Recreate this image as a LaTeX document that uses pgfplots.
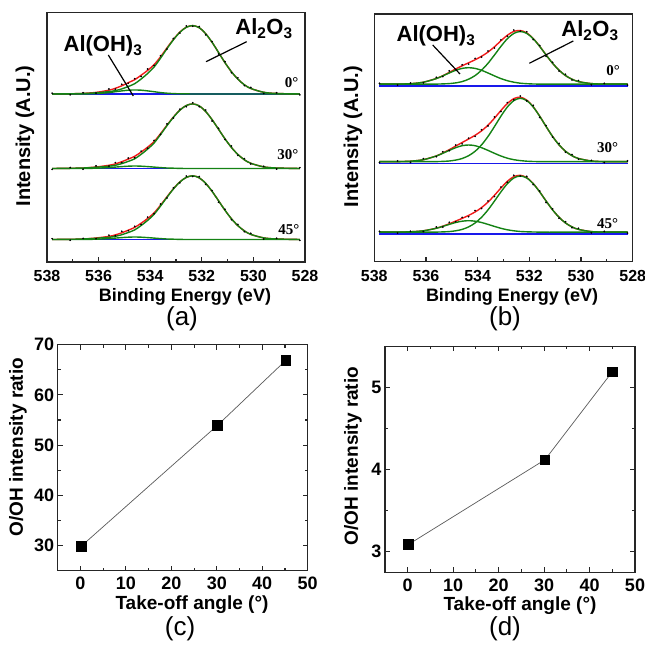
\documentclass[border=0pt]{standalone}
\usepackage{fontspec}
\setmainfont{Liberation Sans}
\newfontfamily\tms{Liberation Serif}
\usepackage{pgfplots}
\usepackage{pgfplotstable}
\pgfplotsset{compat=1.18}

\definecolor{fitgreen}{RGB}{20,130,20}
\definecolor{fitred}{RGB}{240,25,25}
\definecolor{basblue}{RGB}{25,25,235}

% panel (a): x, then envelope / Al2O3 / Al(OH)3 / data for 0, 30, 45 deg
\pgfplotstableread{
x e0 c0 h0 d0 e30 c30 h30 d30 e45 c45 h45 d45
537.8 168.0 168.0 168.0 168.8 93.5 93.5 93.5 92.6 22.5 22.5 22.5 23.3
537.1 168.2 168.2 168.0 167.2 93.7 93.7 93.5 94.4 22.7 22.7 22.5 21.7
536.6 168.6 168.5 168.1 169.2 94.0 94.0 93.5 92.8 23.0 23.0 22.5 23.6
536.1 169.6 169.2 168.4 168.9 95.0 94.7 93.8 96.1 24.0 23.7 22.8 23.3
535.6 171.8 170.4 169.4 173.0 96.7 95.8 94.4 95.9 25.6 24.7 23.4 26.8
535.35 173.7 171.4 170.3 172.8 98.1 96.7 94.9 99.4 27.1 25.7 23.9 26.2
535.1 176.2 173.1 171.1 177.7 100.3 98.4 95.4 99.4 29.2 27.3 24.4 30.7
534.85 179.3 175.5 171.8 178.7 102.9 100.6 95.8 103.9 31.8 29.5 24.8 31.2
534.6 182.3 178.3 172.0 183.3 105.7 103.2 96.0 104.3 34.6 32.1 25.0 35.6
534.35 186.8 183.0 171.8 185.5 110.0 107.7 95.8 110.8 38.8 36.5 24.8 37.5
534.1 191.6 188.5 171.1 193.0 114.8 112.9 95.4 113.7 43.5 41.6 24.4 44.9
533.85 197.3 195.0 170.3 196.5 120.4 119.0 94.9 121.6 49.1 47.7 23.9 48.3
533.6 205.2 203.8 169.4 206.3 128.3 127.4 94.4 127.6 56.8 55.9 23.4 57.9
533.35 214.1 213.3 168.8 212.9 136.8 136.3 94.0 138.1 65.2 64.7 23.0 64.0
533.1 222.6 222.2 168.4 223.5 145.0 144.7 93.8 144.0 73.3 73.0 22.8 74.2
532.85 229.9 229.7 168.2 228.9 151.9 151.8 93.6 152.8 80.1 80.0 22.6 79.1
532.6 234.8 234.7 168.1 236.1 156.5 156.5 93.5 155.3 84.6 84.6 22.5 85.9
532.35 236.4 236.4 168.0 235.7 158.1 158.1 93.5 159.2 86.2 86.2 22.5 85.5
532.1 234.3 234.3 168.0 235.5 156.1 156.1 93.5 155.3 84.2 84.2 22.5 85.4
531.85 228.3 228.3 168.0 227.2 150.5 150.5 93.5 151.9 78.7 78.7 22.5 77.6
531.6 219.6 219.6 168.0 220.4 142.3 142.3 93.5 141.0 70.6 70.6 22.5 71.4
531.35 209.5 209.5 168.0 208.1 132.7 132.7 93.5 133.7 61.2 61.2 22.5 59.8
531.1 199.3 199.3 168.0 200.3 123.1 123.1 93.5 122.5 51.7 51.7 22.5 52.7
530.85 190.2 190.2 168.0 189.3 114.5 114.5 93.5 116.0 43.2 43.2 22.5 42.3
530.6 182.8 182.8 168.0 184.1 107.5 107.5 93.5 106.6 36.3 36.3 22.5 37.6
530.35 177.2 177.2 168.0 176.4 102.2 102.2 93.5 103.4 31.1 31.1 22.5 30.3
530.1 173.5 173.5 168.0 174.6 98.7 98.7 93.5 98.0 27.6 27.6 22.5 28.7
529.6 169.7 169.7 168.0 168.5 95.1 95.1 93.5 95.7 24.1 24.1 22.5 22.9
529.1 168.5 168.5 168.0 169.2 94.0 94.0 93.5 93.0 23.0 23.0 22.5 23.7
528.2 168.0 168.0 168.0 167.1 93.5 93.5 93.5 94.3 22.5 22.5 22.5 21.6
}\tabA

% panel (b)
\pgfplotstableread{
x e0 c0 h0 d0 e30 c30 h30 d30 e45 c45 h45 d45
537.8 177.5 177.5 177.5 178.3 100.0 100.0 100.0 99.1 29.5 29.5 29.5 30.3
537.1 177.6 177.5 177.6 176.6 100.1 100.0 100.1 100.8 29.6 29.5 29.6 28.6
536.6 178.0 177.5 178.0 178.6 100.5 100.0 100.5 99.3 29.9 29.5 29.9 30.5
536.1 179.5 177.5 179.5 178.8 102.0 100.0 102.0 103.1 30.9 29.5 30.9 30.2
535.6 183.2 177.6 183.1 184.4 105.8 100.1 105.7 105.0 33.5 29.6 33.4 34.7
535.35 186.0 177.8 185.8 185.1 108.7 100.3 108.4 110.0 35.5 29.8 35.3 34.6
535.1 189.3 178.1 188.7 190.8 112.0 100.7 111.3 111.1 37.9 30.1 37.3 39.4
534.85 192.7 178.8 191.4 192.1 115.6 101.6 114.0 116.6 40.6 30.9 39.2 40.0
534.6 195.9 180.1 193.3 196.9 119.2 103.2 116.0 117.8 43.3 32.3 40.5 44.3
534.35 198.9 182.5 194.0 197.6 122.7 106.0 116.7 123.5 46.3 34.8 41.0 45.0
534.1 201.9 186.1 193.3 203.3 126.4 110.4 116.0 125.3 49.7 38.7 40.5 51.1
533.85 205.4 191.5 191.4 204.6 130.8 116.8 114.0 132.0 54.1 44.4 39.2 53.3
533.6 209.6 198.4 188.7 210.7 136.5 125.2 111.3 135.8 59.6 51.8 37.3 60.7
533.35 214.9 206.7 185.8 213.7 143.5 135.1 108.4 144.8 66.4 60.6 35.3 65.2
533.1 220.9 215.3 183.1 221.8 151.2 145.5 105.7 150.2 73.7 69.8 33.4 74.6
532.85 226.5 223.0 181.0 225.5 158.2 154.7 103.5 159.1 80.4 78.0 31.9 79.4
532.6 230.3 228.3 179.5 231.6 163.1 161.1 102.0 161.9 85.1 83.7 30.9 86.4
532.35 231.2 230.2 178.5 230.5 164.5 163.4 101.1 165.6 86.4 85.7 30.2 85.7
532.1 228.8 228.3 178.0 230.0 161.6 161.1 100.5 160.8 84.1 83.7 29.9 85.3
531.85 223.2 223.0 177.7 222.1 154.9 154.7 100.2 156.3 78.2 78.0 29.7 77.1
531.6 215.4 215.3 177.6 216.2 145.6 145.5 100.1 144.3 69.9 69.8 29.6 70.7
531.35 206.7 206.7 177.5 205.3 135.1 135.1 100.0 136.1 60.6 60.6 29.5 59.2
531.1 198.4 198.4 177.5 199.4 125.2 125.2 100.0 124.6 51.8 51.8 29.5 52.8
530.85 191.5 191.5 177.5 190.6 116.8 116.8 100.0 118.3 44.4 44.4 29.5 43.5
530.6 186.1 186.1 177.5 187.4 110.4 110.4 100.0 109.5 38.7 38.7 29.5 40.0
530.35 182.5 182.5 177.5 181.7 106.0 106.0 100.0 107.2 34.8 34.8 29.5 34.0
530.1 180.1 180.1 177.5 181.2 103.2 103.2 100.0 102.5 32.3 32.3 29.5 33.4
529.6 178.1 178.1 177.5 176.9 100.7 100.7 100.0 101.3 30.1 30.1 29.5 28.9
529.1 177.6 177.6 177.5 178.3 100.1 100.1 100.0 99.1 29.6 29.6 29.5 30.3
528.2 177.5 177.5 177.5 176.6 100.0 100.0 100.0 100.8 29.5 29.5 29.5 28.6
}\tabB

\newcommand\lbl{\fontsize{19}{19}\selectfont\bfseries}
\newcommand\spc{\fontsize{22}{22}\selectfont\bfseries}
\newcommand\ang{\fontsize{15}{15}\selectfont\tms\bfseries}
\newcommand\pan{\fontsize{26}{26}\selectfont}

\pgfplotsset{
  frame/.style={scale only axis, anchor=south west, tick align=inside,
    axis line style={line width=1.3pt, black!85},
    tick style={black!85, line width=1.1pt},
    major tick length=5pt, minor tick length=3pt,
    /pgf/number format/assume math mode=true,
    /pgf/number format/1000 sep={},
    ticklabel style={font=\fontsize{18}{18}\selectfont\bfseries}},
  spec/.style={frame, xmin=528, xmax=538, x dir=reverse, ymin=0,
    xtick={528,530,...,538}, minor x tick num=1, ytick=\empty,
    xtick pos=bottom,
    xticklabel style={font=\fontsize{16}{16}\selectfont\bfseries, yshift=-5pt}},
  gr/.style={fitgreen, line width=1.4pt, smooth, no markers},
  rd/.style={fitred, line width=1.4pt, smooth, no markers},
  bl/.style={basblue, line width=1.3pt, no markers},
  pts/.style={only marks, mark=*, mark size=0.65pt, black},
  ratio/.style={frame, xmin=-5, xmax=50, xtick={0,10,...,50},
    minor x tick num=1, minor y tick num=1, width=250pt, height=226pt,
    xticklabel style={yshift=-3pt}},
  sq/.style={black!65, line width=0.7pt, mark=square*,
    mark size=4.8pt, mark options={black, solid}}
}

\begin{document}
\begin{tikzpicture}[x=1pt,y=1pt]
\useasboundingbox (0pt,0pt) rectangle (645pt,645pt);

% (a)
\begin{axis}[spec, at={(47pt,383pt)},
  width=258pt, height=249.6pt, ymax=249.6]
\addplot[bl] coordinates {(537.8,168) (528.2,168)};
\addplot[rd] table[x=x,y=e0] {\tabA};
\addplot[gr] table[x=x,y=c0] {\tabA};
\addplot[gr] table[x=x,y=h0] {\tabA};
\addplot[pts] table[x=x,y=d0] {\tabA};
\addplot[bl] coordinates {(537.8,93.5) (528.2,93.5)};
\addplot[rd] table[x=x,y=e30] {\tabA};
\addplot[gr] table[x=x,y=c30] {\tabA};
\addplot[gr] table[x=x,y=h30] {\tabA};
\addplot[pts] table[x=x,y=d30] {\tabA};
\addplot[bl] coordinates {(537.8,22.5) (528.2,22.5)};
\addplot[rd] table[x=x,y=e45] {\tabA};
\addplot[gr] table[x=x,y=c45] {\tabA};
\addplot[gr] table[x=x,y=h45] {\tabA};
\addplot[pts] table[x=x,y=d45] {\tabA};
\end{axis}

% (b)
\begin{axis}[spec, at={(374.3pt,383.3pt)},
  width=258.4pt, height=247.7pt, ymax=247.7]
\addplot[rd] table[x=x,y=e0] {\tabB};
\addplot[gr] table[x=x,y=c0] {\tabB};
\addplot[gr] table[x=x,y=h0] {\tabB};
\addplot[bl] coordinates {(537.8,175.8) (528.2,175.8)};
\addplot[pts] table[x=x,y=d0] {\tabB};
\addplot[rd] table[x=x,y=e30] {\tabB};
\addplot[gr] table[x=x,y=c30] {\tabB};
\addplot[gr] table[x=x,y=h30] {\tabB};
\addplot[bl] coordinates {(537.8,98.3) (528.2,98.3)};
\addplot[pts] table[x=x,y=d30] {\tabB};
\addplot[rd] table[x=x,y=e45] {\tabB};
\addplot[gr] table[x=x,y=c45] {\tabB};
\addplot[gr] table[x=x,y=h45] {\tabB};
\addplot[bl] coordinates {(537.8,27.8) (528.2,27.8)};
\addplot[pts] table[x=x,y=d45] {\tabB};
\end{axis}

% (c)
\begin{axis}[ratio, at={(57.7pt,74.3pt)},
  ymin=25, ymax=70, ytick={30,40,...,70}]
\addplot[sq] coordinates {(0.2,29.9) (30.1,53.9) (45.2,66.9)};
\end{axis}

% (d)
\begin{axis}[ratio, at={(385pt,72.7pt)},
  ymin=2.75, ymax=5.5, ytick={3,4,5}]
\addplot[sq] coordinates {(0.2,3.09) (30.2,4.12) (45.0,5.19)};
\end{axis}

% annotations (a)
\node[anchor=base] at (103pt,593.3pt) {\spc Al(OH)\textsubscript{3}};
\node[anchor=base] at (264pt,610pt) {\spc Al\textsubscript{2}O\textsubscript{3}};
\draw[line width=1.2pt] (108.3pt,590pt) -- (133.3pt,549pt);
\draw[line width=1.2pt] (246.7pt,603.3pt) -- (206pt,583.3pt);
\node[anchor=base east] at (302pt,557.7pt) {\ang 0°};
\node[anchor=base east] at (302pt,485.7pt) {\ang 30°};
\node[anchor=base east] at (303pt,410pt) {\ang 45°};
% annotations (b)
\node[anchor=base] at (436pt,603.3pt) {\spc Al(OH)\textsubscript{3}};
\node[anchor=base] at (590pt,608.3pt) {\spc Al\textsubscript{2}O\textsubscript{3}};
\draw[line width=1.2pt] (432.7pt,600pt) -- (460pt,571pt);
\draw[line width=1.2pt] (573.3pt,604pt) -- (529.3pt,581.7pt);
\node[anchor=base east] at (623.3pt,569.7pt) {\ang 0°};
\node[anchor=base east] at (621.7pt,492.3pt) {\ang 30°};
\node[anchor=base east] at (621.7pt,416.7pt) {\ang 45°};

% axis titles
\node[anchor=base] at (185pt,343pt) {\fontsize{18}{18}\selectfont\bfseries Binding Energy (eV)};
\node[anchor=base] at (512pt,343pt) {\fontsize{18}{18}\selectfont\bfseries Binding Energy (eV)};
\node[rotate=90] at (25pt,509pt) {\fontsize{20}{20}\selectfont\bfseries Intensity (A.U.)};
\node[rotate=90] at (353pt,508.5pt) {\fontsize{20}{20}\selectfont\bfseries Intensity (A.U.)};
\node[anchor=base] at (192pt,35pt) {\lbl Take-off angle (°)};
\node[anchor=base] at (520pt,34.5pt) {\lbl Take-off angle (°)};
\node[rotate=90] at (18pt,198pt) {\lbl O/OH intensity ratio};
\node[rotate=90] at (353pt,189pt) {\lbl O/OH intensity ratio};
\node at (182pt,326pt) {\pan (a)};
\node at (505pt,326pt) {\pan (b)};
\node at (180pt,16pt) {\pan (c)};
\node at (505pt,16pt) {\pan (d)};
\end{tikzpicture}
\end{document}
